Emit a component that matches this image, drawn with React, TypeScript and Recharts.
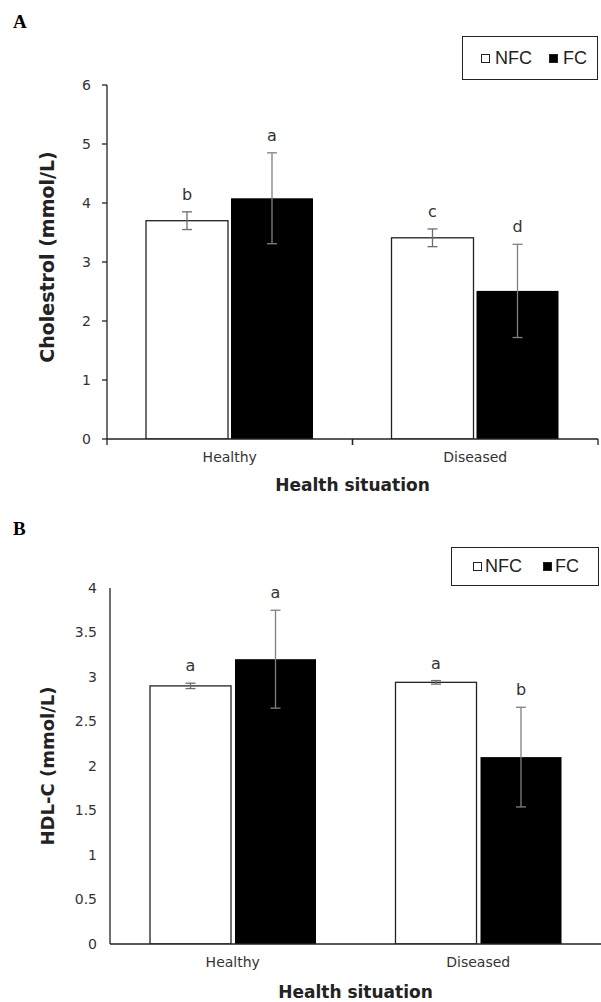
import React from 'react';
import { BarChart, Bar, XAxis, YAxis, ErrorBar, Legend } from 'recharts';

// ---------- data ----------
const categories = ['Healthy', 'Diseased'];
const seriesNames = ['NFC', 'FC'];
const seriesFills = ['#ffffff', '#000000'];

const cholesterolNFC = [3.7, 3.41];
const cholesterolNFCErr = [0.15, 0.15];
const cholesterolFC = [4.08, 2.51];
const cholesterolFCErr = [0.77, 0.79];
const cholesterolNFCLetters = ['b', 'c'];
const cholesterolFCLetters = ['a', 'd'];
const cholesterolTicks = [0, 1, 2, 3, 4, 5, 6];

const hdlNFC = [2.9, 2.94];
const hdlNFCErr = [0.03, 0.02];
const hdlFC = [3.2, 2.1];
const hdlFCErr = [0.55, 0.56];
const hdlNFCLetters = ['a', 'a'];
const hdlFCLetters = ['a', 'b'];
const hdlTicks = [0, 0.5, 1, 1.5, 2, 2.5, 3, 3.5, 4];

const buildRows = (nfc: number[], nfcErr: number[], fc: number[], fcErr: number[], nfcL: string[], fcL: string[]) =>
  categories.map((c, i) => ({
    category: c,
    nfc: nfc[i],
    nfcErr: nfcErr[i],
    fc: fc[i],
    fcErr: fcErr[i],
    nfcLetter: nfcL[i],
    fcLetter: fcL[i],
  }));

const cholesterolRows = buildRows(cholesterolNFC, cholesterolNFCErr, cholesterolFC, cholesterolFCErr, cholesterolNFCLetters, cholesterolFCLetters);
const hdlRows = buildRows(hdlNFC, hdlNFCErr, hdlFC, hdlFCErr, hdlNFCLetters, hdlFCLetters);

// ---------- styling ----------
const SANS = '"DejaVu Sans", sans-serif';
const AXIS = '#222';
const TEXT = '#333';

const makeShape = (valueKey: string, errKey: string, letterKey: string, fill: string, stroke: string) => (props: any) => {
  const { x, y, width, height, payload } = props;
  const v = payload ? payload[valueKey] : 0;
  const e = payload ? payload[errKey] : 0;
  const ppu = v ? height / v : 0;
  const errTop = y - e * ppu;
  return (
    <g>
      <rect x={x} y={y} width={width} height={height} fill={fill} stroke={stroke} strokeWidth={stroke === 'none' ? 0 : 1.3} />
      <text x={x + width / 2} y={errTop - 12} textAnchor="middle" fontFamily={SANS} fontSize={16} fill={TEXT}>
        {payload ? payload[letterKey] : ''}
      </text>
    </g>
  );
};

const CategoryTick = (props: any) => {
  const { x, y, payload, boundaries } = props;
  const half = payload && payload.offset ? payload.offset : 0;
  return (
    <g>
      {boundaries && half > 0 ? (
        <g>
          <line x1={x - half} x2={x - half} y1={y} y2={y + 6} stroke={AXIS} strokeWidth={1.3} />
          <line x1={x + half} x2={x + half} y1={y} y2={y + 6} stroke={AXIS} strokeWidth={1.3} />
        </g>
      ) : null}
      <text x={x} y={y + 23} textAnchor="middle" fontFamily={SANS} fontSize={14} fill={TEXT}>
        {payload ? payload.value : ''}
      </text>
    </g>
  );
};

const LegendBox = (props: any) => {
  const { box } = props;
  return (
    <div
      style={{
        width: box.w,
        height: box.h,
        boxSizing: 'border-box',
        border: '1.3px solid #222',
        display: 'flex',
        alignItems: 'center',
        paddingLeft: box.pad,
        fontFamily: '"Liberation Sans", Arial, sans-serif',
        fontSize: 18,
        color: '#222',
        background: '#fff',
      }}
    >
      {seriesNames.map((n: string, i: number) => (
        <div key={n} style={{ display: 'flex', alignItems: 'center', marginRight: i === 0 ? box.gap : 0 }}>
          <span
            style={{
              display: 'inline-block',
              width: 9,
              height: 9,
              boxSizing: 'border-box',
              border: '1px solid #222',
              background: seriesFills[i],
              marginRight: box.textGap,
            }}
          />
          <span>{n}</span>
        </div>
      ))}
    </div>
  );
};

type PanelProps = {
  rows: any[];
  top: number;
  height: number;
  margin: { top: number; right: number; bottom: number; left: number };
  yWidth: number;
  xHeight: number;
  domain: [number, number];
  ticks: number[];
  yTickLine: boolean;
  yTickMargin: number;
  xBoundaries: boolean;
  barSize: number;
  barGap: number;
  yTitle: string;
  yTitleY: number;
  yTitleSize: number;
  xTitleDy: number;
  legend: { left: number; top: number; w: number; h: number; pad: number; gap: number; textGap: number };
};

const Panel = (p: PanelProps) => (
  <div style={{ position: 'absolute', left: 0, top: p.top, width: 601, height: p.height }}>
    <BarChart width={601} height={p.height} data={p.rows} margin={p.margin} barSize={p.barSize} barGap={p.barGap}>
      <XAxis
        dataKey="category"
        height={p.xHeight}
        axisLine={{ stroke: AXIS, strokeWidth: 1.3 }}
        tickLine={false}
        tickSize={0}
        tickMargin={0}
        interval={0}
        tick={(tp: any) => <CategoryTick {...tp} boundaries={p.xBoundaries} />}
        label={(lp: any) => {
          const vb = lp.viewBox || {};
          return (
            <text
              x={vb.x + vb.width / 2}
              y={vb.y + p.xTitleDy}
              textAnchor="middle"
              fontFamily={SANS}
              fontWeight="bold"
              fontSize={17}
              fill={AXIS}
            >
              Health situation
            </text>
          );
        }}
      />
      <YAxis
        type="number"
        width={p.yWidth}
        domain={p.domain}
        ticks={p.ticks}
        interval={0}
        allowDataOverflow
        axisLine={{ stroke: AXIS, strokeWidth: 1.3 }}
        tickLine={p.yTickLine ? { stroke: AXIS, strokeWidth: 1.3 } : false}
        tickSize={5}
        tickMargin={p.yTickMargin}
        tick={{ fontFamily: SANS, fontSize: 14, fill: TEXT }}
        label={() => (
          <text
            transform={`translate(47, ${p.yTitleY}) rotate(-90)`}
            textAnchor="middle"
            dominantBaseline="central"
            fontFamily={SANS}
            fontWeight="bold"
            fontSize={p.yTitleSize}
            fill={AXIS}
          >
            {p.yTitle}
          </text>
        )}
      />
      <Legend
        layout="horizontal"
        verticalAlign="middle"
        align="center"
        wrapperStyle={{ left: p.legend.left, top: p.legend.top, width: p.legend.w, height: p.legend.h }}
        content={(lp: any) => <LegendBox {...lp} box={p.legend} />}
      />
      <Bar
        dataKey="nfc"
        name={seriesNames[0]}
        fill={seriesFills[0]}
        stroke={AXIS}
        isAnimationActive={false}
        shape={makeShape('nfc', 'nfcErr', 'nfcLetter', seriesFills[0], AXIS)}
      >
        <ErrorBar dataKey="nfcErr" width={5} stroke="#6e6e6e" strokeWidth={1.3} direction="y" />
      </Bar>
      <Bar
        dataKey="fc"
        name={seriesNames[1]}
        fill={seriesFills[1]}
        isAnimationActive={false}
        shape={makeShape('fc', 'fcErr', 'fcLetter', seriesFills[1], 'none')}
      >
        <ErrorBar dataKey="fcErr" width={5} stroke="#808080" strokeWidth={1.3} direction="y" />
      </Bar>
    </BarChart>
  </div>
);

export default function App() {
  return (
    <div style={{ position: 'absolute', left: 0, top: 0, width: 601, height: 1002, background: '#fff', overflow: 'hidden' }}>
      <svg width={601} height={1002} style={{ position: 'absolute', left: 0, top: 0 }}>
        <text x={13} y={28} fontFamily='"Liberation Serif", serif' fontWeight="bold" fontSize={19} fill="#000">A</text>
        <text x={13} y={535} fontFamily='"Liberation Serif", serif' fontWeight="bold" fontSize={19} fill="#000">B</text>
      </svg>
      <Panel
        rows={cholesterolRows}
        top={0}
        height={500}
        margin={{ top: 85, right: 3, bottom: 0, left: 0 }}
        yWidth={107}
        xHeight={61}
        domain={[0, 6]}
        ticks={cholesterolTicks}
        yTickLine={true}
        yTickMargin={11}
        xBoundaries={true}
        barSize={82}
        barGap={3}
        yTitle="Cholestrol (mmol/L)"
        yTitleY={257}
        yTitleSize={19}
        xTitleDy={52}
        legend={{ left: 462, top: 36, w: 136, h: 44, pad: 18, gap: 17, textGap: 5 }}
      />
      <Panel
        rows={hdlRows}
        top={500}
        height={502}
        margin={{ top: 88, right: 0, bottom: 0, left: 0 }}
        yWidth={110}
        xHeight={58}
        domain={[0, 4]}
        ticks={hdlTicks}
        yTickLine={false}
        yTickMargin={8}
        xBoundaries={false}
        barSize={81}
        barGap={4}
        yTitle="HDL-C (mmol/L)"
        yTitleY={266}
        yTitleSize={18}
        xTitleDy={54}
        legend={{ left: 451, top: 47, w: 148, h: 39, pad: 21, gap: 21, textGap: 3 }}
      />
    </div>
  );
}
